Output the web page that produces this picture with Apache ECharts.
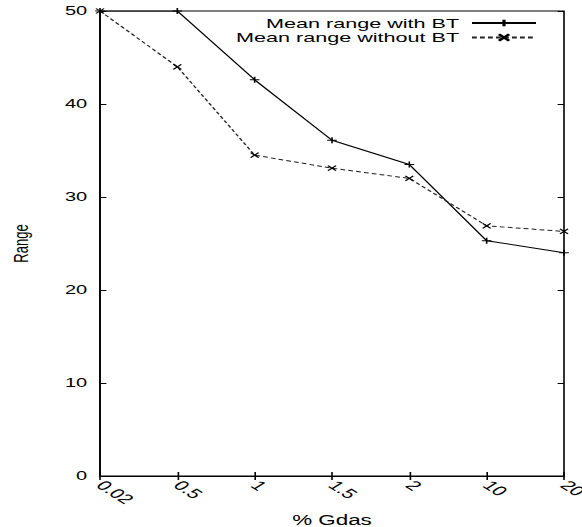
<!DOCTYPE html>
<html>
<head>
<meta charset="utf-8">
<script src="https://cdn.jsdelivr.net/npm/echarts@6/dist/echarts.min.js"></script>
<style>
html,body{margin:0;padding:0;background:#fff;overflow:hidden;}
/* the reference is stretched sideways, so the chart is drawn narrow and scaled */
#chart{width:364px;height:527px;transform:scaleX(1.6);transform-origin:0 0;}
</style>
</head>
<body>
<div id="chart"></div>
<script>
const categories = ['0.02', '0.5', '1', '1.5', '2', '10', '20'];
const withBT = [50, 50, 42.6, 36.1, 33.5, 25.3, 24.0];
const withoutBT = [50, 44.0, 34.5, 33.1, 32.0, 26.9, 26.3];
const yTicks = [0, 10, 20, 30, 40, 50];

const font = "'Liberation Sans', Arial, sans-serif";
const plus = 'path://M0,5L10,5M5,0L5,10';
const cross = 'path://M0,0L10,10M10,0L0,10';

const chart = echarts.init(document.getElementById('chart'), null, {renderer: 'svg'});

const legendBase = {
	orient: 'horizontal',
	align: 'right',
	right: 28,
	padding: 0,
	itemWidth: 40,
	itemHeight: 8,
	textStyle: {fontFamily: font, fontSize: 13.5, lineHeight: 12, color: '#000', padding: [0, 3, 0, 0]}
};

chart.setOption({
	animation: false,
	grid: {
		left: 62.5, right: 11.5, top: 11, bottom: 51,
		outerBoundsMode: 'none',
		show: true, borderColor: '#000', borderWidth: 1
	},
	legend: [
		Object.assign({}, legendBase, {top: 16, data: ['Mean range with BT']}),
		Object.assign({}, legendBase, {top: 30.5, data: ['Mean range without BT']})
	],
	xAxis: [{
		type: 'category',
		data: categories,
		boundaryGap: false,
		name: '% Gdas',
		nameLocation: 'middle',
		nameGap: 30,
		nameTextStyle: {fontFamily: font, fontSize: 14, color: '#000'},
		axisLine: {lineStyle: {color: '#000', width: 1}},
		axisTick: {inside: true, length: 4, lineStyle: {color: '#000'}},
		axisLabel: {rotate: -45, margin: 7, fontFamily: font, fontSize: 13.5, color: '#000'},
		splitLine: {show: false}
	}, {
		type: 'category',
		position: 'top',
		data: categories,
		boundaryGap: false,
		axisLine: {show: false},
		axisTick: {inside: true, length: 4, lineStyle: {color: '#000'}},
		axisLabel: {show: false}
	}],
	yAxis: [{
		type: 'value',
		min: yTicks[0],
		max: yTicks[yTicks.length - 1],
		interval: 10,
		name: 'Range',
		nameLocation: 'middle',
		nameRotate: 90,
		nameGap: 43,
		nameTextStyle: {fontFamily: font, fontSize: 13, color: '#000'},
		axisLine: {show: true, lineStyle: {color: '#000', width: 1}},
		axisTick: {show: true, inside: true, length: 4, lineStyle: {color: '#000'}},
		axisLabel: {margin: 8, fontFamily: font, fontSize: 12.5, color: '#000'},
		splitLine: {show: false}
	}, {
		type: 'value',
		position: 'right',
		min: yTicks[0],
		max: yTicks[yTicks.length - 1],
		interval: 10,
		axisLine: {show: false},
		axisTick: {show: true, inside: true, length: 4, lineStyle: {color: '#000'}},
		axisLabel: {show: false},
		splitLine: {show: false}
	}],
	series: [{
		name: 'Mean range with BT',
		type: 'line',
		data: withBT,
		symbol: plus,
		symbolSize: 6,
		showAllSymbol: true,
		lineStyle: {color: '#000', width: 1},
		itemStyle: {color: '#000', borderColor: '#000', borderWidth: 1}
	}, {
		name: 'Mean range without BT',
		type: 'line',
		data: withoutBT,
		symbol: cross,
		symbolSize: 5,
		showAllSymbol: true,
		lineStyle: {color: '#222', width: 1, type: [3, 2]},
		itemStyle: {color: '#000', borderColor: '#000', borderWidth: 1}
	}]
});
</script>
</body>
</html>
